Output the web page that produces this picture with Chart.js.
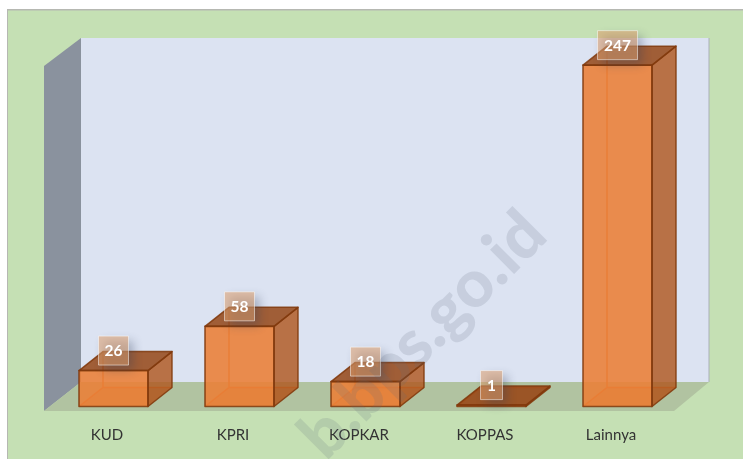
<!DOCTYPE html>
<html><head><meta charset="utf-8">
<style>html,body{margin:0;padding:0;background:#fff}canvas{display:block}</style>
<script src="https://cdn.jsdelivr.net/npm/chart.js@4"></script></head>
<body><div style="width:743px;height:459px"><canvas id="c" width="743" height="459"></canvas></div>
<script>
const categories = ["KUD","KPRI","KOPKAR","KOPPAS","Lainnya"];
const values = [26,58,18,1,247];
const watermark = "b.bps.go.id";

const depthX = 24, depthY = -19;
const walls = {l:44,bx:81,r:709,fr:674,t:38,b:382,fb:411,lt:66};

function poly(ctx,pts,fill,stroke,lw){
  ctx.beginPath();
  pts.forEach((p,i)=>i?ctx.lineTo(p[0],p[1]):ctx.moveTo(p[0],p[1]));
  ctx.closePath();
  if(fill){ctx.fillStyle=fill;ctx.fill();}
  if(stroke){ctx.strokeStyle=stroke;ctx.lineWidth=lw||1;ctx.lineJoin='round';ctx.stroke();}
}
const stage = {
  id:'stage',
  beforeDraw(chart){
    const c=chart.ctx;
    c.save();
    c.fillStyle='#fff';c.fillRect(0,0,743,459);
    c.fillStyle='#c5e0b4';c.fillRect(7,10,736,449);
    c.fillStyle='#b6b8b2';c.fillRect(7,9,736,1.5);c.fillRect(7,9,1,450);
    poly(c,[[walls.bx,walls.t],[walls.r,walls.t],[walls.r,walls.b],[walls.bx,walls.b]],'#dce3f2');
    c.fillStyle='#a9afb8';c.fillRect(walls.r-.5,walls.t,1,walls.b-walls.t);
    poly(c,[[walls.l,walls.lt],[walls.bx,walls.t],[walls.bx,walls.b],[walls.l,walls.fb]],'#8a929e');
    poly(c,[[walls.l,walls.fb],[walls.bx,walls.b],[walls.r,walls.b],[walls.fr,walls.fb]],'#b1c3a1');
    c.restore();
  },
  beforeDatasetsDraw(chart){
    const c=chart.ctx;
    c.save();
    chart.getDatasetMeta(0).data.forEach(b=>{
      const {x,y,base,width}=b.getProps(['x','y','base','width'],true);
      const L=x-width/2,R=x+width/2;
      c.strokeStyle='rgba(224,112,40,.9)';c.lineWidth=1.5;
      c.beginPath();
      c.moveTo(L,base);c.lineTo(L+depthX,base+depthY);c.lineTo(R+depthX,base+depthY);
      c.moveTo(L+depthX,base+depthY);c.lineTo(L+depthX,y+depthY);
      c.stroke();
      poly(c,[[L,base],[L+depthX,base+depthY],[R+depthX,base+depthY],[R,base]],'rgba(200,100,40,.35)');
    });
    c.restore();
  },
  afterDatasetsDraw(chart){
    const c=chart.ctx, edge='rgba(128,56,12,.85)';
    c.save();
    chart.getDatasetMeta(0).data.forEach(b=>{
      const {x,y,base,width}=b.getProps(['x','y','base','width'],true);
      const L=x-width/2,R=x+width/2;
      poly(c,[[R,y],[R+depthX,y+depthY],[R+depthX,base+depthY],[R,base]],'rgba(176,88,32,.82)',edge,1.5);
      poly(c,[[L,y],[L+depthX,y+depthY],[R+depthX,y+depthY],[R,y]],'rgba(150,72,24,.86)',edge,1.5);
      c.strokeStyle=edge;c.lineWidth=1.6;c.strokeRect(L,y,width,base-y);
    });
    chart.getDatasetMeta(0).data.forEach((b,i)=>{
      const {x,y}=b.getProps(['x','y'],true);
      const t=String(values[i]);
      const w=t.length*10+11+(t.length===1?1:-1), h=29, bx=x-w/2, by=y-20-h/2;
      c.save();
      c.shadowColor='rgba(50,60,90,.6)';c.shadowBlur=10;c.shadowOffsetX=5;c.shadowOffsetY=5;
      c.fillStyle='rgba(224,158,108,.54)';c.fillRect(bx,by,w,h);
      c.restore();
      c.strokeStyle='rgba(255,255,255,.5)';c.lineWidth=1;c.strokeRect(bx,by,w,h);
      c.fillStyle='#fff';c.font='bold 15.5px Lato';c.textAlign='center';c.textBaseline='middle';
      c.fillText(t,x,by+h/2+.5);
    });
    c.restore();
  },
  afterDraw(chart){
    const c=chart.ctx;
    c.save();
    c.translate(550,238);c.rotate(-Math.PI/4);
    c.font='900 66px Lato';c.fillStyle='rgba(95,105,125,.17)';
    c.textAlign='right';c.textBaseline='alphabetic';
    c.fillText(watermark,0,0);
    c.restore();
  }
};
new Chart(document.getElementById('c'),{
  type:'bar',
  data:{labels:categories,datasets:[{data:values,backgroundColor:'rgba(234,126,54,.88)',borderWidth:0,
    barPercentage:69/126,categoryPercentage:1}]},
  options:{
    responsive:false,animation:false,
    layout:{padding:{left:50.5,right:62.5,top:61,bottom:0}},
    plugins:{legend:{display:false},tooltip:{enabled:false}},
    scales:{
      x:{grid:{display:false},border:{display:false},
        afterFit(s){s.height=52.5;},
        ticks:{color:'#333333',font:{family:'Lato',size:15},labelOffset:-6.5,padding:12,maxRotation:0,autoSkip:false}},
      y:{display:false,min:0,max:250}
    }
  },
  plugins:[stage]
});
</script></body></html>
